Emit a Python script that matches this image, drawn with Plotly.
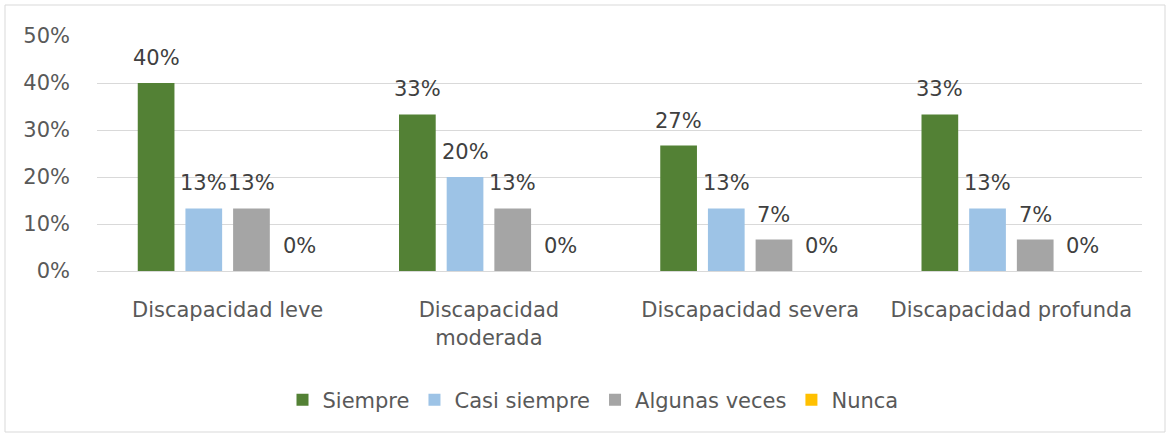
import plotly.graph_objects as go

categories = ["Discapacidad leve", "Discapacidad<br>moderada", "Discapacidad severa", "Discapacidad profunda"]
series_names = ["Siempre", "Casi siempre", "Algunas veces", "Nunca"]
siempre = [40.0, 33.3, 26.7, 33.3]
casi_siempre = [13.3, 20.0, 13.3, 13.3]
algunas_veces = [13.3, 13.3, 6.7, 6.7]
nunca = [0.0, 0.0, 0.0, 0.0]
colors = ["#538135", "#9DC3E6", "#A5A5A5", "#FFC000"]
y_ticks = [0, 10, 20, 30, 40, 50]
y_tick_labels = ["0%", "10%", "20%", "30%", "40%", "50%"]

FONT = "DejaVu Sans, sans-serif"
FS = 21
series = [siempre, casi_siempre, algunas_veces, nunca]

W, H = 1170, 438
L, R, T, B = 97, 1142, 36, 271
pw, ph = R - L, B - T
def px(x): return (x - L) / pw
def py(y): return (B - y) / ph

BARGAP, GROUPGAP = 0.27, 0.23
slot = pw / len(categories) * (1 - BARGAP) / len(series)

fig = go.Figure()
annotations = []
for j, (name, vals, col) in enumerate(zip(series_names, series, colors)):
    fig.add_trace(go.Bar(x=categories, y=vals, name=name, marker_color=col, marker_line_width=0))
    for cat, v in zip(categories, vals):
        annotations.append(dict(
            x=cat, y=v, xref="x", yref="y", text=f"{v:.0f}%", showarrow=False,
            xshift=(j - (len(series) - 1) / 2) * slot, yshift=25, yanchor="middle",
            font=dict(size=FS, color="#404040", family=FONT)))

fig.update_layout(
    width=W, height=H,
    margin=dict(l=L, r=W - R, t=T, b=H - B),
    paper_bgcolor="white", plot_bgcolor="white",
    barmode="group", bargap=BARGAP, bargroupgap=GROUPGAP,
    font=dict(family=FONT, color="#595959", size=FS),
    showlegend=True,
    legend=dict(orientation="h", x=px(593), xanchor="center", y=py(400), yanchor="middle",
                font=dict(size=FS, color="#595959"), traceorder="normal", itemwidth=30),
    annotations=annotations,
    shapes=[dict(type="rect", xref="paper", yref="paper",
                 x0=px(5), x1=px(1165), y0=py(432), y1=py(5),
                 line=dict(color="#D9D9D9", width=1), fillcolor="rgba(0,0,0,0)", layer="below")],
)
fig.update_yaxes(range=[0, 50], tickvals=y_ticks, ticktext=y_tick_labels, showgrid=True,
                 gridcolor="#D9D9D9", gridwidth=1, zeroline=False, showline=False,
                 tickfont=dict(size=FS, color="#595959"), ticks="", ticklabelstandoff=26)
fig.update_xaxes(showline=True, linecolor="#D9D9D9", linewidth=1, ticks="",
                 tickfont=dict(size=FS, color="#595959"), tickangle=0, ticklabelstandoff=20)

fig.write_html("out.html", config={"displayModeBar": False},
               post_script="document.body.style.margin='0px';")
